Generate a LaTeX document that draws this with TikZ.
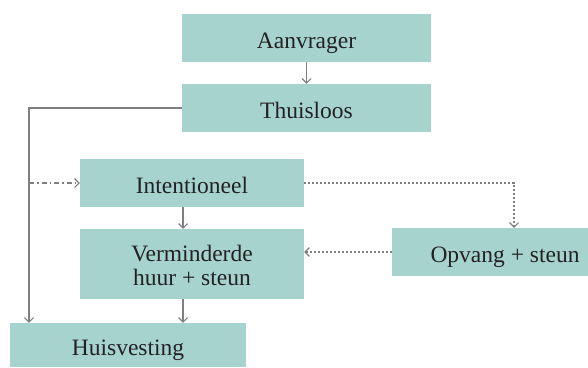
\documentclass[tikz,border=0pt]{standalone}
\usepackage{fontspec}
\setmainfont{Liberation Serif}
\usetikzlibrary{arrows.meta}
\definecolor{boxfill}{HTML}{A7D3CF}
\definecolor{linegray}{HTML}{7F7F7F}
\definecolor{textdark}{HTML}{222222}
\begin{document}
\begin{tikzpicture}[x=1pt,y=1pt,
  box/.style={fill=boxfill,draw=none,inner sep=0pt,text=textdark,font=\fontsize{23.5}{24}\selectfont,align=center,text height=20pt,text depth=0pt},
  conn/.style={draw=linegray,line width=1.1pt,-{Straight Barb[length=4.5pt,width=9pt]}},
  dotconn/.style={conn,dash pattern=on 2pt off 2pt},
  dashdotconn/.style={conn,dash pattern=on 5pt off 3pt on 1.5pt off 3pt}]
\useasboundingbox (0,0) rectangle (588,-367);
\clip (0,0) rectangle (588,-367);
\node[box,minimum width=249,minimum height=48] (aan) at (306.5,-38) {Aanvrager};
\node[box,minimum width=249,minimum height=48] (thu) at (306.5,-108) {Thuisloos};
\node[box,minimum width=224,minimum height=48] (int) at (192,-183) {Intentioneel};
\node[box,minimum width=224,minimum height=70,text height=42pt] (ver) at (192,-264) {Verminderde\\huur + steun};
\node[box,minimum width=226,minimum height=48] (opv) at (505,-252) {Opvang + steun};
\node[box,minimum width=236,minimum height=44] (hui) at (128,-345) {Huisvesting};
\coordinate (c1) at (29,-108);
\coordinate (c2) at (29,-183);
\coordinate (c3) at (514,-183);
\coordinate (c4) at (183,0);
\draw[conn] (aan) -- (thu);
\draw[conn] (thu.west) -- (c1) -- (hui.north -| c1);
\draw[dashdotconn] (c2) -- (int.west);
\draw[conn] (int.south -| c4) -- (ver.north -| c4);
\draw[dotconn] (int.east) -- (c3) -- (opv.north -| c3);
\draw[dotconn] (opv.west) -- (ver.east |- opv.west);
\draw[conn] (ver.south -| c4) -- (hui.north -| c4);
\end{tikzpicture}
\end{document}
